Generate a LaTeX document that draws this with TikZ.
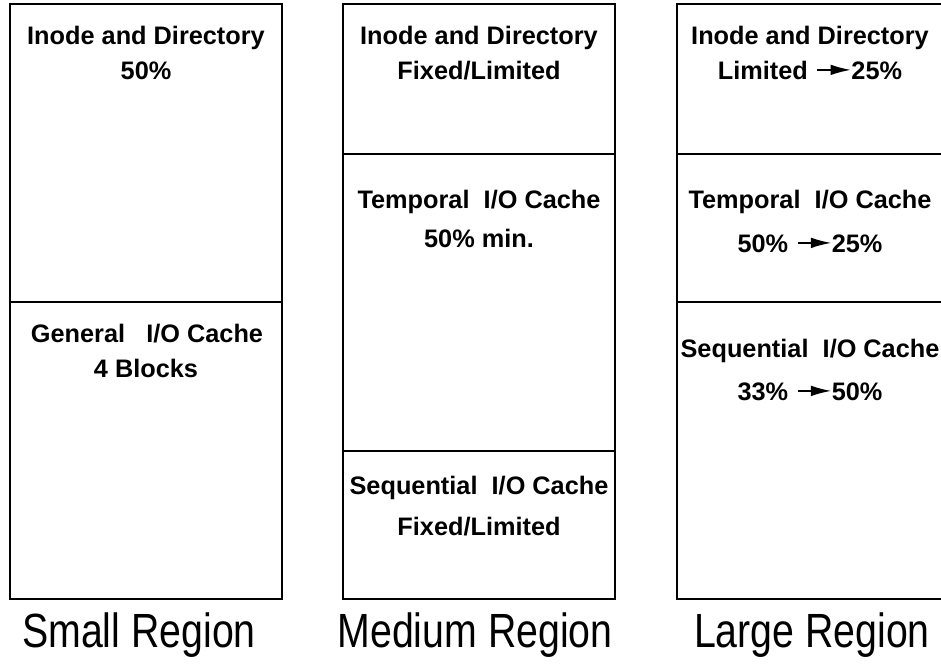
\documentclass[tikz,border=0pt]{standalone}
\usepackage{fontspec}
\usepackage{graphicx}
\setmainfont{Liberation Sans}
\usetikzlibrary{arrows.meta}
\newcommand{\myarrow}{\hspace{0.35em}\tikz[baseline={(0,-0.36em)}]\draw[line width=1.4pt,-{Latex[length=0.8em,width=0.42em]}] (0,0) -- (1.32em,0);}
\newcommand{\narrow}[1]{\scalebox{0.818}[1]{#1}}
\tikzset{
  boxline/.style={line width=1.1pt, draw=black},
  txt/.style={anchor=base, inner sep=0pt, font=\fontsize{25.3}{30}\selectfont\bfseries},
  lbl/.style={anchor=base, inner sep=0pt, font=\fontsize{48}{56}\selectfont},
}
\begin{document}
\begin{tikzpicture}[x=1pt,y=-1pt]
\useasboundingbox (0,0) rectangle (941,667);
% boxes
\draw[boxline] (10,4) rectangle (282,599);
\draw[boxline] (10,302) -- (282,302);
\draw[boxline] (343,4) rectangle (615,599);
\draw[boxline] (343,154) -- (615,154);
\draw[boxline] (343,451) -- (615,451);
\draw[boxline] (945,4) -- (677,4) -- (677,599) -- (945,599);
\draw[boxline] (677,154) -- (945,154);
\draw[boxline] (677,302) -- (945,302);
% small region
\node[txt] (s1) at (146,44) {Inode and Directory};
\node[txt] (s2) at (146,79) {50\%};
\node[txt] (s3) at (147,342) {General\hspace{0.84em}I/O Cache};
\node[txt] (s4) at (146,377) {4 Blocks};
% medium region
\node[txt] (m1) at (479,44) {Inode and Directory};
\node[txt] (m2) at (479,79) {Fixed/Limited};
\node[txt] (m3) at (479,208) {Temporal\hspace{0.56em}I/O Cache};
\node[txt] (m4) at (479,247) {50\% min.};
\node[txt] (m5) at (479,494) {Sequential\hspace{0.56em}I/O Cache};
\node[txt] (m6) at (479,535) {Fixed/Limited};
% large region
\node[txt] (l1) at (810,44) {Inode and Directory};
\node[txt] (l2) at (810,79) {Limited\myarrow 25\%};
\node[txt] (l3) at (810,208) {Temporal\hspace{0.56em}I/O Cache};
\node[txt] (l4) at (810,252) {50\%\myarrow 25\%};
\node[txt] (l5) at (810,357) {Sequential\hspace{0.56em}I/O Cache};
\node[txt] (l6) at (810,400) {33\%\myarrow 50\%};
% captions
\node[lbl] (c1) at (139,647) {\narrow{Small Region}};
\node[lbl] (c2) at (475,647) {\narrow{Medium Region}};
\node[lbl] (c3) at (812,647) {\narrow{Large Region}};
\end{tikzpicture}
\end{document}
